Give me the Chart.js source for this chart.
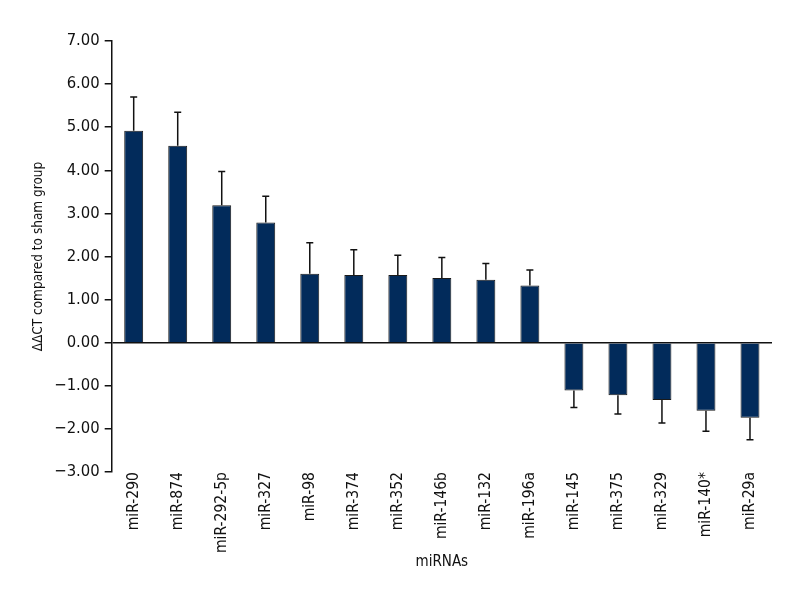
<!DOCTYPE html>
<html>
<head>
<meta charset="utf-8">
<script src="https://cdn.jsdelivr.net/npm/chart.js@4"></script>
<style>
  html, body { margin: 0; padding: 0; background: #fff; }
  #wrap { width: 800px; height: 600px; }
</style>
</head>
<body>
<div id="wrap"><canvas id="c" width="800" height="600"></canvas></div>
<script>
const categories = ['miR-290','miR-874','miR-292-5p','miR-327','miR-98','miR-374','miR-352','miR-146b','miR-132','miR-196a','miR-145','miR-375','miR-329','miR-140*','miR-29a'];
const values = [4.92, 4.57, 3.19, 2.79, 1.60, 1.57, 1.57, 1.50, 1.46, 1.33, -1.11, -1.22, -1.33, -1.58, -1.74];
const errors = [0.78, 0.78, 0.78, 0.61, 0.72, 0.59, 0.46, 0.48, 0.38, 0.36, 0.39, 0.43, 0.53, 0.47, 0.51];
const yMin = -3, yMax = 7, yStep = 1;
const yTitle = 'ΔΔCT compared to sham group';
const xTitle = 'miRNAs';

const FONT = "'Liberation Sans Narrow', 'DejaVu Sans Condensed', 'Arial Narrow', sans-serif";

const errorBars = {
  id: 'errorBars',
  afterDatasetsDraw(chart) {
    const ctx = chart.ctx;
    const meta = chart.getDatasetMeta(0);
    const y = chart.scales.y;
    ctx.save();
    ctx.strokeStyle = '#111';
    ctx.lineWidth = 1.5;
    meta.data.forEach((bar, i) => {
      const v = values[i];
      const end = v >= 0 ? v + errors[i] : v - errors[i];
      const yv = y.getPixelForValue(v);
      const ye = y.getPixelForValue(end);
      const x = bar.x;
      ctx.beginPath();
      ctx.moveTo(x, yv);
      ctx.lineTo(x, ye);
      ctx.moveTo(x - 3.5, ye);
      ctx.lineTo(x + 3.5, ye);
      ctx.stroke();
    });
    ctx.restore();
  }
};

new Chart(document.getElementById('c'), {
  type: 'bar',
  data: {
    labels: categories,
    datasets: [{
      data: values,
      backgroundColor: '#022b5b',
      borderColor: '#1a1a1a',
      borderWidth: 1,
      barPercentage: 0.43,
      categoryPercentage: 1.0
    }]
  },
  options: {
    responsive: false,
    animation: false,
    layout: { padding: { top: 41, right: 28, bottom: 29, left: 30 } },
    plugins: { legend: { display: false }, tooltip: { enabled: false } },
    scales: {
      x: {
        grid: { display: false, drawTicks: false, tickLength: 0 },
        border: { display: false },
        ticks: {
          color: '#111',
          font: { family: FONT, size: 15.5 },
          minRotation: 90, maxRotation: 90,
          padding: 0
        },
        title: {
          display: true, text: xTitle, color: '#111',
          font: { family: FONT, size: 15 },
          padding: { top: 0, bottom: 0 }
        }
      },
      y: {
        min: yMin, max: yMax,
        ticks: {
          stepSize: yStep,
          color: '#111',
          font: { family: FONT, size: 16.5 },
          padding: 5,
          callback: v => (v < 0 ? '\u2212' : '') + Math.abs(v).toFixed(2)
        },
        grid: {
          color: c => (c.tick && c.tick.value === 0) ? '#111' : 'rgba(0,0,0,0)',
          lineWidth: 1.5,
          tickColor: '#111',
          tickLength: 7,
          drawTicks: true
        },
        border: { display: true, color: '#111', width: 1.5 },
        title: {
          display: true, text: yTitle, color: '#111',
          font: { family: FONT, size: 13.5 },
          padding: { top: 0, bottom: 3 }
        }
      }
    }
  },
  plugins: [errorBars]
});
</script>
</body>
</html>
